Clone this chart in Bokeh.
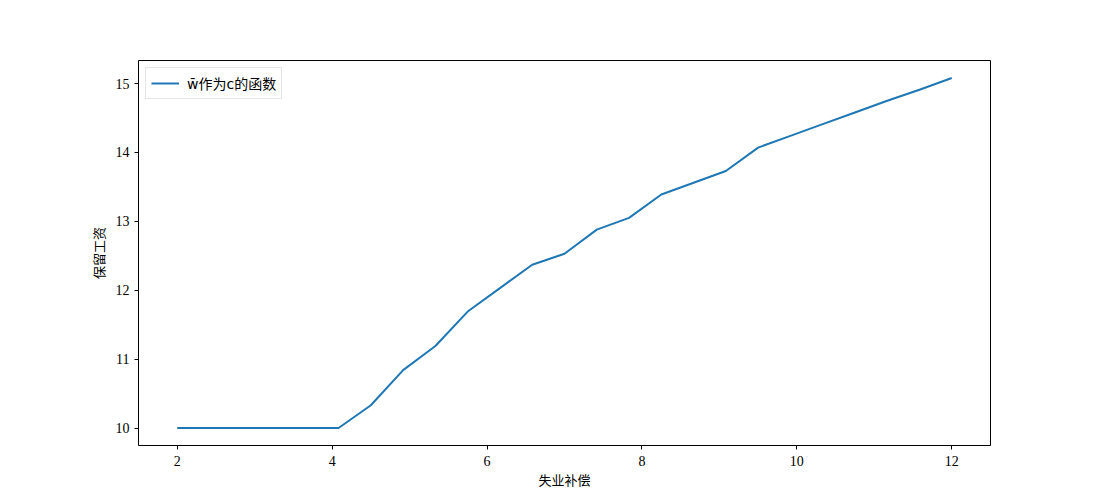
from bokeh.plotting import figure
from bokeh.models import FixedTicker, Range1d, Legend, LegendItem
from bokeh.embed import file_html
from bokeh.resources import INLINE

c_vals = [2.0, 2.4167, 2.8333, 3.25, 3.6667, 4.0833, 4.5, 4.9167, 5.3333, 5.75,
          6.1667, 6.5833, 7.0, 7.4167, 7.8333, 8.25, 8.6667, 9.0833, 9.5, 9.9167,
          10.3333, 10.75, 11.1667, 11.5833, 12.0]
w_bar = [10.0, 10.0, 10.0, 10.0, 10.0, 10.0, 10.33, 10.84, 11.19, 11.69,
         12.03, 12.37, 12.53, 12.88, 13.05, 13.39, 13.56, 13.73, 14.07, 14.24,
         14.41, 14.58, 14.75, 14.91, 15.08]
x_ticks = [2, 4, 6, 8, 10, 12]
y_ticks = [10, 11, 12, 13, 14, 15]

p = figure(width=1084, height=492, output_backend="svg", toolbar_location=None,
           x_range=Range1d(1.5, 12.5), y_range=Range1d(9.746, 15.334),
           min_border_left=138, min_border_right=94, min_border_top=60, min_border_bottom=47)
p.background_fill_color = "white"
p.border_fill_color = "white"
p.outline_line_color = "black"
p.outline_line_width = 1
p.grid.visible = False

r = p.line(c_vals, w_bar, line_color="#1f77b4", line_width=2)

for ax in (p.xaxis[0], p.yaxis[0]):
    ax.axis_line_color = None
    ax.major_tick_line_color = "black"
    ax.major_tick_out = 4
    ax.major_tick_in = 0
    ax.minor_tick_line_color = None
    ax.major_label_text_font = "Liberation Serif"
    ax.major_label_text_font_size = "14px"
    ax.major_label_text_color = "black"
    ax.axis_label_text_font = "Noto Sans CJK SC"
    ax.axis_label_text_font_size = "13px"
    ax.axis_label_text_font_style = "normal"
    ax.axis_label_text_color = "black"

p.xaxis.ticker = FixedTicker(ticks=x_ticks)
p.yaxis.ticker = FixedTicker(ticks=y_ticks)
p.xaxis.axis_label = "失业补偿"
p.yaxis.axis_label = "保留工资"
p.xaxis.major_label_standoff = 6
p.yaxis.major_label_standoff = 5
p.xaxis.axis_label_standoff = 1
p.yaxis.axis_label_standoff = 5

legend = Legend(items=[LegendItem(label="w\u0304作为c的函数", renderers=[r])],
                location="top_left")
legend.margin = 7
legend.padding = 5
legend.spacing = 0
legend.glyph_width = 28
legend.glyph_height = 12
legend.label_standoff = 8
legend.label_text_font = "DejaVu Sans, Noto Sans CJK SC"
legend.label_text_font_size = "14px"
legend.label_text_color = "black"
legend.border_line_color = "#cccccc"
legend.border_line_width = 1
legend.background_fill_alpha = 0.8
p.add_layout(legend)

open("out.html", "w").write(file_html(p, INLINE))
